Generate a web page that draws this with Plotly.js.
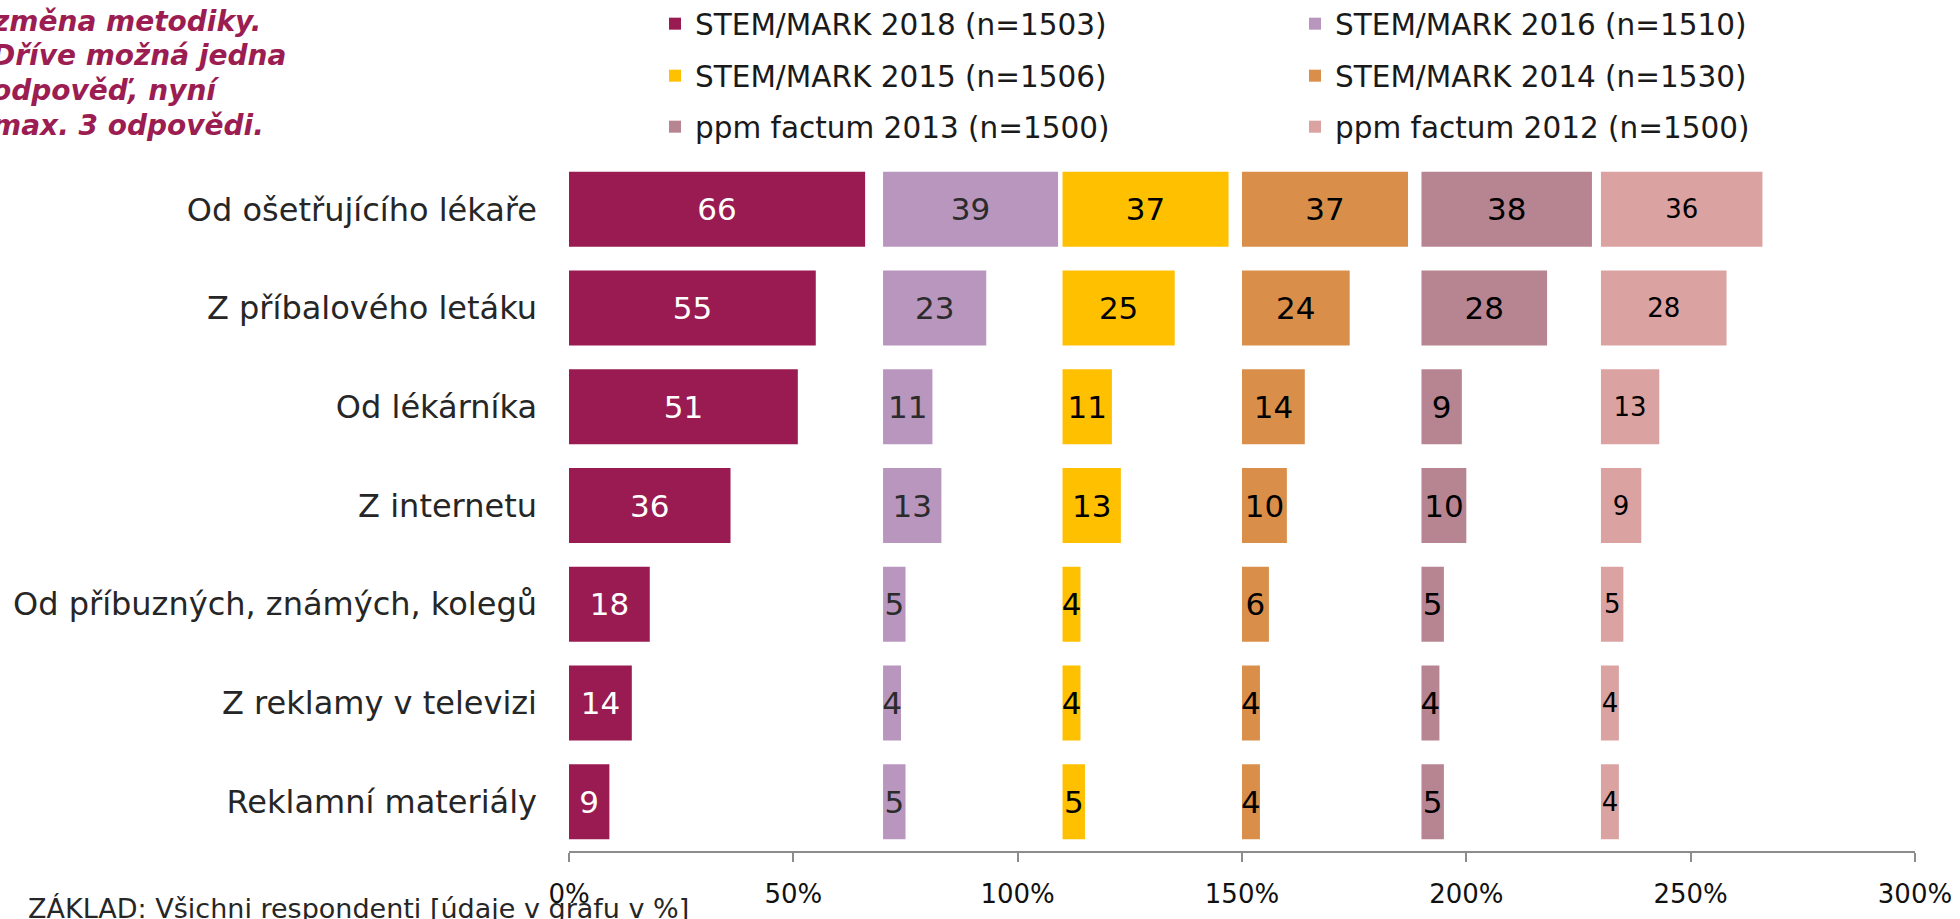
<!DOCTYPE html>
<html>
<head>
<meta charset="utf-8">
<script src="https://cdn.plot.ly/plotly-3.0.1.min.js"></script>
<style>html,body{margin:0;padding:0;background:#fff;overflow:hidden}#chart{width:1960px;height:919px}</style>
</head>
<body>
<div id="chart"></div>
<script>
const categories = ["Od ošetřujícího lékaře", "Z příbalového letáku", "Od lékárníka", "Z internetu", "Od příbuzných, známých, kolegů", "Z reklamy v televizi", "Reklamní materiály"];
const seriesNames = ["STEM/MARK 2018 (n=1503)", "STEM/MARK 2016 (n=1510)", "STEM/MARK 2015 (n=1506)", "STEM/MARK 2014 (n=1530)", "ppm factum 2013 (n=1500)", "ppm factum 2012 (n=1500)"];
const v2018 = [66, 55, 51, 36, 18, 14, 9];
const v2016 = [39, 23, 11, 13, 5, 4, 5];
const v2015 = [37, 25, 11, 13, 4, 4, 5];
const v2014 = [37, 24, 14, 10, 6, 4, 4];
const v2013 = [38, 28, 9, 10, 5, 4, 5];
const v2012 = [36, 28, 13, 9, 5, 4, 4];
const tickVals = [0, 50, 100, 150, 200, 250, 300];
const tickText = ["0%", "50%", "100%", "150%", "200%", "250%", "300%"];
const noteLines = ["změna metodiky.", "Dříve možná jedna", "odpověď, nyní", "max. 3 odpovědi."];
const footnote = "ZÁKLAD: Všichni respondenti [údaje v grafu v %]";

const FONT = "DejaVu Sans, Verdana, sans-serif";
const series = [v2018, v2016, v2015, v2014, v2013, v2012];
const bases = [0, 70, 110, 150, 190, 230];
const colors = ["#991B51", "#B896BE", "#FFC000", "#D98F4A", "#B78592", "#DBA2A2"];
const textColors = ["#ffffff", "#2b2b2b", "#000000", "#000000", "#000000", "#000000"];
const textSizes = [31, 31, 31, 31, 31, 26];
const legendIds = ["legend", "legend", "legend2", "legend2", "legend3", "legend3"];

const traces = series.map((vals, i) => ({
  type: "bar",
  orientation: "h",
  name: seriesNames[i],
  y: categories,
  x: vals,
  base: bases[i],
  text: vals.map(String),
  textposition: "inside",
  insidetextanchor: "middle",
  textangle: 0,
  constraintext: "none",
  cliponaxis: false,
  textfont: {family: FONT, size: textSizes[i], color: textColors[i]},
  marker: {color: colors[i], line: {width: 0}},
  legend: legendIds[i],
  hoverinfo: "skip"
}));

function legendAt(yPx) {
  return {
    orientation: "h",
    xref: "container", yref: "container",
    x: 655 / 1960, xanchor: "left",
    y: 1 - yPx / 919, yanchor: "middle",
    entrywidth: 595, entrywidthmode: "pixels",
    font: {family: FONT, size: 29.5, color: "#1a1a1a"},
    bgcolor: "rgba(0,0,0,0)",
    traceorder: "normal"
  };
}

const L = 569, T = 160, R = 45, B = 68;
const plotW = 1960 - L - R, plotH = 919 - T - B;
function px2paperX(px) { return (px - L) / plotW; }
function px2paperY(py) { return (919 - B - py) / plotH; }

const noteY = [21, 55, 90, 125];
const noteAnnotations = noteLines.map((line, i) => ({
  xref: "paper", yref: "paper",
  x: px2paperX(-10), xanchor: "left",
  y: px2paperY(noteY[i]), yanchor: "middle",
  align: "left", showarrow: false,
  text: "<b><i>" + line + "</i></b>",
  font: {family: FONT, size: 28, color: "#9B1D52"}
}));

const layout = {
  width: 1960, height: 919,
  margin: {l: L, r: R, t: T, b: B, pad: 0},
  paper_bgcolor: "#ffffff", plot_bgcolor: "#ffffff",
  barmode: "overlay",
  bargap: 0.24,
  font: {family: FONT, color: "#1a1a1a"},
  xaxis: {
    range: [0, 300], tickvals: tickVals, ticktext: tickText,
    showgrid: false, zeroline: false,
    showline: true, linecolor: "#8c8c8c", linewidth: 2,
    ticks: "outside", ticklen: 9, tickwidth: 2, tickcolor: "#8c8c8c",
    ticklabelstandoff: 10,
    tickfont: {family: FONT, size: 26, color: "#111"},
    fixedrange: true
  },
  yaxis: {
    autorange: "reversed", showgrid: false, zeroline: false, showline: false,
    ticks: "", ticklabelstandoff: 31,
    tickfont: {family: FONT, size: 32, color: "#262626"},
    fixedrange: true
  },
  showlegend: true,
  legend: legendAt(24),
  legend2: legendAt(76),
  legend3: legendAt(127),
  annotations: noteAnnotations.concat([
    {
      xref: "paper", yref: "paper",
      x: px2paperX(26), xanchor: "left",
      y: px2paperY(909), yanchor: "middle",
      align: "left", showarrow: false,
      text: footnote,
      font: {family: FONT, size: 27, color: "#262626"}
    }
  ])
};

Plotly.newPlot("chart", traces, layout, {staticPlot: true, displayModeBar: false});
</script>
</body>
</html>
